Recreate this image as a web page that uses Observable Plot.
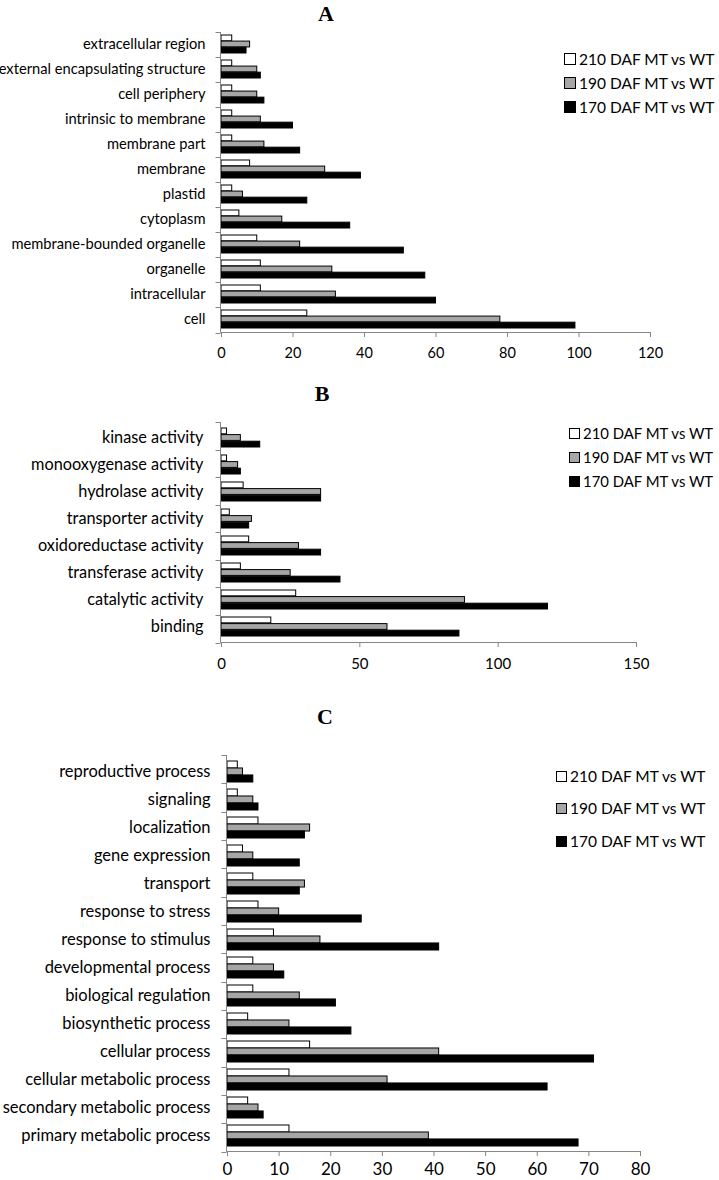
<!DOCTYPE html>
<html><head><meta charset="utf-8">
<script src="https://cdn.jsdelivr.net/npm/d3@7"></script>
<script src="https://cdn.jsdelivr.net/npm/@observablehq/plot@0.6"></script>
<style>
body{margin:0;background:#fff;}
#wrap{position:relative;width:719px;height:1180px;overflow:hidden;font-family:Lato,sans-serif;color:#000;}
.title{position:absolute;font-family:"Liberation Serif",serif;font-weight:bold;font-size:22px;transform:translate(-50%,-50%);line-height:1;}
.panel{position:absolute;left:0;}
.lrow{position:absolute;white-space:nowrap;display:flex;align-items:center;transform:translateY(-50%);font-family:Lato,sans-serif;}
.sw{box-sizing:border-box;border:1px solid #000;margin-right:3px;}
</style></head>
<body><div id="wrap"></div>
<script>
const seriesNames = ["210 DAF MT vs WT", "190 DAF MT vs WT", "170 DAF MT vs WT"];
const seriesFills = ["#ffffff", "#a6a6a6", "#000000"];

const catsA = ["extracellular region","external encapsulating structure","cell periphery","intrinsic to membrane","membrane part","membrane","plastid","cytoplasm","membrane-bounded organelle","organelle","intracellular","cell"];
const a210 = [3,3,3,3,3,8,3,5,10,11,11,24];
const a190 = [8,10,10,11,12,29,6,17,22,31,32,78];
const a170 = [7,11,12,20,22,39,24,36,51,57,60,99];
const ticksA = [0,20,40,60,80,100,120];

const catsB = ["kinase activity","monooxygenase activity","hydrolase activity","transporter activity","oxidoreductase activity","transferase activity","catalytic activity","binding"];
const b210 = [2,2,8,3,10,7,27,18];
const b190 = [7,6,36,11,28,25,88,60];
const b170 = [14,7,36,10,36,43,118,86];
const ticksB = [0,50,100,150];

const catsC = ["reproductive process","signaling","localization","gene expression","transport","response to stress","response to stimulus","developmental process","biological regulation","biosynthetic process","cellular process","cellular metabolic process","secondary metabolic process","primary metabolic process"];
const c210 = [2,2,6,3,5,6,9,5,5,4,16,12,4,12];
const c190 = [3,5,16,5,15,10,18,9,14,12,41,31,6,39];
const c170 = [5,6,15,14,14,26,41,11,21,24,71,62,7,68];
const ticksC = [0,10,20,30,40,50,60,70,80];

const AXIS = "#868686";
const wrap = document.getElementById("wrap");

function axisLines(n) {
  return (index, scales, values, dim) => {
    const g = d3.create("svg:g").attr("stroke", AXIS).attr("stroke-width", 1).attr("fill", "none");
    const x0 = Math.round(scales.x(0)) - 0.5;
    const top = dim.marginTop, bottom = Math.round(dim.height - dim.marginBottom) + 0.5;
    const right = dim.width - dim.marginRight;
    const step = (bottom - top) / n;
    g.append("line").attr("x1", x0).attr("x2", x0).attr("y1", top).attr("y2", bottom);
    g.append("line").attr("x1", x0).attr("x2", right).attr("y1", bottom).attr("y2", bottom);
    for (let k = 0; k <= n; k++) {
      const y = Math.round(top + k * step) + 0.5;
      g.append("line").attr("x1", x0 - 5).attr("x2", x0).attr("y1", y).attr("y2", y);
    }
    return g.node();
  };
}

function panel(o) {
  const n = o.cats.length;
  const step = (o.height - o.marginTop - o.marginBottom) / n;
  const t = step * (1 - o.pad) / 3;
  const rows = o.cats.map((c, i) => ({cat: c, v0: o.vals[0][i], v1: o.vals[1][i], v2: o.vals[2][i]}));
  const bar = (k, insetTop, insetBottom) => Plot.barX(rows, {
    y: "cat", x: "v" + k, fill: seriesFills[k], stroke: "#000", strokeWidth: 1,
    insetTop, insetBottom
  });
  const chart = Plot.plot({
    width: 719, height: o.height,
    marginTop: o.marginTop, marginBottom: o.marginBottom, marginLeft: o.marginLeft, marginRight: 719 - o.xRight,
    x: {domain: [0, o.ticks[o.ticks.length - 1]]},
    y: {domain: o.cats, paddingInner: o.pad, paddingOuter: o.pad / 2, align: 0.5},
    style: {fontFamily: "Lato, sans-serif", color: "#000", background: "transparent", overflow: "visible"},
    marks: [
      bar(0, 0, 2 * t),
      bar(1, t, t),
      bar(2, 2 * t, 0),
      axisLines(n),
      Plot.axisY({tickSize: 0, tickPadding: o.labelPad, fontSize: o.labelSize, fill: "#000", label: null}),
      Plot.axisX({ticks: o.ticks, tickSize: 5, stroke: AXIS, fill: "#000", tickPadding: o.xTickPad, fontSize: o.tickSize, label: null})
    ]
  });
  chart.classList.add("panel");
  chart.style.top = o.top + "px";
  wrap.appendChild(chart);

  const title = document.createElement("div");
  title.className = "title";
  title.textContent = o.title;
  title.style.left = o.titleX + "px";
  title.style.top = o.titleY + "px";
  wrap.appendChild(title);

  seriesNames.forEach((s, k) => {
    const row = document.createElement("div");
    row.className = "lrow";
    row.style.left = o.legX + "px";
    row.style.top = o.legY[k] + "px";
    row.style.fontSize = o.legSize + "px";
    const sw = document.createElement("span");
    sw.className = "sw";
    sw.style.width = o.swSize + "px";
    sw.style.height = o.swSize + "px";
    sw.style.background = seriesFills[k];
    row.appendChild(sw);
    const tx = document.createElement("span");
    tx.textContent = s;
    row.appendChild(tx);
    wrap.appendChild(row);
  });
}

panel({title: "A", titleX: 326, titleY: 14, cats: catsA, vals: [a210, a190, a170], ticks: ticksA,
  top: 22, height: 350, marginTop: 10, marginBottom: 40, marginLeft: 221, xRight: 650, pad: 0.27,
  labelSize: 14.7, labelPad: 16, tickSize: 14.5, xTickPad: 10,
  legX: 564, legY: [59, 83, 107], legSize: 15.5, swSize: 12});

panel({title: "B", titleX: 322, titleY: 394, cats: catsB, vals: [b210, b190, b170], ticks: ticksB,
  top: 410, height: 272, marginTop: 12, marginBottom: 40, marginLeft: 221, xRight: 636, pad: 0.28,
  labelSize: 16.3, labelPad: 18, tickSize: 15, xTickPad: 11,
  legX: 569, legY: [433, 457, 481], legSize: 14.9, swSize: 11});

panel({title: "C", titleX: 325, titleY: 717, cats: catsC, vals: [c210, c190, c170], ticks: ticksC,
  top: 745, height: 434, marginTop: 10, marginBottom: 28, marginLeft: 227, xRight: 640, pad: 0.26,
  labelSize: 16.5, labelPad: 17, tickSize: 17, xTickPad: 6,
  legX: 556, legY: [776, 808, 841], legSize: 15.5, swSize: 11});
</script>
</body></html>
